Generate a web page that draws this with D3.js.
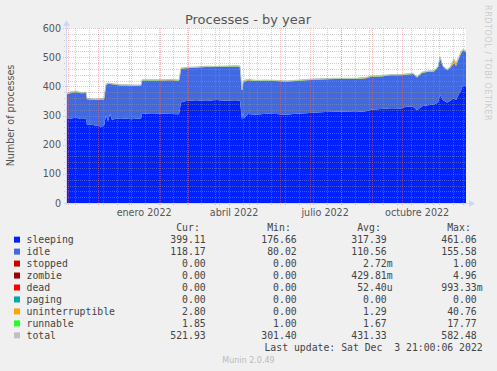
<!DOCTYPE html>
<head>
  <meta charset="utf-8">
  <script src="https://d3js.org/d3.v7.min.js"></script>
<style>
    body {
        margin: 0;
        background: #f0f0f0;
    }
    text {
        font-family: "DejaVu Sans", sans-serif;
        fill: #555;
    }
    .mono {
        font-family: "DejaVu Sans Mono", monospace;
        font-size: 9.8px;
        fill: #444;
        white-space: pre;
    }
</style>
</head>

<body>
  <script>

// day offsets from the start of the graph (Oct 29 2021 21:00)
var days = [0, 5, 10, 15, 20, 21, 25, 30, 35, 38,
    40, 42, 44, 46, 50, 55, 60, 65, 70, 75,
    76, 85, 95, 105, 113, 115, 120, 130, 140, 150,
    160, 170, 174, 176, 177, 178, 182, 190, 200, 210,
    220, 230, 240, 250, 260, 270, 280, 290, 300, 305,
    315, 325, 335, 340, 347, 351, 356, 362, 368, 372,
    374, 377, 381, 384, 388, 390, 393, 395, 397, 400];

var sleeping = [287, 290, 292, 288, 289, 268, 268, 266, 262, 265,
    300, 280, 305, 285, 290, 288, 290, 287, 289, 290,
    305, 308, 307, 305, 304, 345, 350, 352, 350, 353,
    351, 352, 351, 285, 310, 290, 305, 303, 306, 305,
    303, 306, 308, 310, 312, 313, 313, 312, 315, 320,
    322, 325, 324, 330, 330, 318, 332, 335, 338, 345,
    370, 352, 345, 350, 360, 352, 375, 385, 405, 399.11];

var idle = [85, 86, 88, 88, 86, 88, 87, 88, 92, 90,
    105, 128, 103, 122, 115, 115, 112, 115, 113, 112,
    115, 112, 113, 115, 115, 115, 112, 112, 115, 113,
    116, 116, 116, 100, 100, 125, 115, 115, 113, 113,
    113, 112, 113, 113, 112, 112, 112, 113, 112, 113,
    112, 113, 114, 110, 112, 112, 114, 115, 113, 120,
    127, 115, 110, 113, 120, 118, 122, 127, 118, 118.17];

var stopped = [0, 0, 0, 0, 0, 0, 0, 0, 0, 0,
    0, 0, 0, 0, 0, 0, 0, 0, 0, 0,
    0, 0, 0, 0, 0, 0, 0, 0, 0, 0,
    0, 0, 0, 0, 1, 0, 0, 0, 0, 0,
    0, 0, 0, 0, 0, 0, 0, 0, 0, 0,
    0, 0, 0, 0, 0, 0, 0, 0, 0, 0,
    0, 0, 0, 0, 0, 0, 0, 0, 0, 0];

var zombie = [0, 1, 0, 0, 2, 0, 0, 0, 1, 0,
    0, 0, 0, 0, 0, 0, 1, 0, 0, 0,
    0, 0, 0, 1, 0, 0, 0, 0, 1, 0,
    0, 0, 0, 0, 0, 0, 1, 0, 0, 0,
    0, 0, 0, 0, 0, 0, 0, 0, 1, 0,
    0, 0, 0, 0, 0, 0, 0, 0, 0, 0,
    0, 0, 0, 0, 0, 0, 0, 0, 0, 0];

var dead = [0, 0, 0, 0, 0, 0, 0, 0, 0, 0,
    0, 0, 0, 0, 0, 0, 0, 0, 0, 0,
    0, 0, 0, 0, 0, 0, 0, 0, 0, 0,
    0, 0, 0, 0, 0, 0, 0, 0, 0, 0,
    0, 0, 0, 0, 0, 0, 0, 0, 0, 0,
    0, 0, 0, 0, 0, 0, 0, 0, 0, 0,
    0, 0, 0, 0, 0, 0, 0, 0, 0, 0];

var paging = [0, 0, 0, 0, 0, 0, 0, 0, 0, 0,
    0, 0, 0, 0, 0, 0, 0, 0, 0, 0,
    0, 0, 0, 0, 0, 0, 0, 0, 0, 0,
    0, 0, 0, 0, 0, 0, 0, 0, 0, 0,
    0, 0, 0, 0, 0, 0, 0, 0, 0, 0,
    0, 0, 0, 0, 0, 0, 0, 0, 0, 0,
    0, 0, 0, 0, 0, 0, 0, 0, 0, 0];

var uninterruptible = [1, 3, 1, 1, 1, 1, 1, 1, 1, 1,
    1, 1, 1, 1, 1, 1, 1, 1, 1, 1,
    1, 1, 1, 1, 1, 1, 1, 1, 1, 1,
    1, 1, 1, 1, 1, 4, 1, 1, 1, 1,
    1, 1, 1, 1, 1, 1, 1, 1, 1, 1,
    1, 1, 1, 1, 1, 1, 1, 1, 1, 1,
    2, 1, 1, 1, 12, 8, 2, 6, 2, 2.8];

var runnable = [1.7, 1.7, 3, 1.7, 1.7, 1.7, 1.7, 1.7, 1.7, 1.7,
    1.7, 1.7, 1.7, 1.7, 1.7, 1.7, 1.7, 1.7, 1.7, 1.7,
    1.7, 1.7, 1.7, 1.7, 1.7, 1.7, 1.7, 1.7, 1.7, 1.7,
    1.7, 1.7, 1.7, 1.7, 1.7, 1.7, 1.7, 1.7, 1.7, 1.7,
    1.7, 1.7, 1.7, 1.7, 1.7, 1.7, 1.7, 1.7, 1.7, 1.7,
    1.7, 1.7, 1.7, 1.7, 1.7, 1.7, 1.7, 1.7, 1.7, 1.7,
    2, 1.7, 1.7, 1.7, 2, 1.7, 1.7, 1.7, 1.7, 1.85];

var seriesKeys = ["sleeping", "idle", "stopped", "zombie", "dead", "paging", "uninterruptible", "runnable"];
var seriesColors = ["#0022ff", "#4169e1", "#cc0000", "#990000", "#ff0000", "#00aaaa", "#ffa500", "#22ff22"];

var legendNames = ["sleeping", "idle", "stopped", "zombie", "dead", "paging", "uninterruptible", "runnable", "total"];
var legendColors = ["#0022ff", "#4169e1", "#cc0000", "#990000", "#ff0000", "#00aaaa", "#ffa500", "#22ff22", "#c0c0c0"];
var curVals = ["399.11", "118.17", "0.00", "0.00", "0.00", "0.00", "2.80", "1.85", "521.93"];
var minVals = ["176.66", "80.02", "0.00", "0.00", "0.00", "0.00", "0.00", "1.00", "301.40"];
var avgVals = ["317.39", "110.56", "2.72m", "429.81m", "52.40u", "0.00", "1.29", "1.67", "431.33"];
var maxVals = ["461.06", "155.58", "1.00", "4.96", "993.33m", "0.00", "40.76", "17.77", "582.48"];

var yTicks = [0, 100, 200, 300, 400, 500, 600];
var xLabelDates = [new Date(Date.UTC(2022, 0, 1)), new Date(Date.UTC(2022, 3, 1)),
    new Date(Date.UTC(2022, 6, 1)), new Date(Date.UTC(2022, 9, 1))];
var xLabels = ["enero 2022", "abril 2022", "julio 2022", "octubre 2022"];

var width = 497;
var height = 371;
var start = new Date(Date.UTC(2021, 9, 29, 21, 0, 6));
var end = new Date(Date.UTC(2022, 11, 3, 21, 0, 6));

var svg = d3.select("body")
    .append("svg")
    .attr("width", width)
    .attr("height", height);

svg.append("rect")
    .attr("width", width)
    .attr("height", height)
    .attr("fill", "#f0f0f0");

var x = d3.scaleUtc()
    .domain([start, end])
    .range([66, 466]);

var y = d3.scaleLinear()
    .domain([0, 600])
    .range([203, 28]);

// canvas
svg.append("rect")
    .attr("x", x.range()[0])
    .attr("y", y(600))
    .attr("width", x.range()[1] - x.range()[0])
    .attr("height", y(0) - y(600))
    .attr("fill", "#fff");

var table = days.map(function (d, i) {
    return {
        date: d3.utcDay.offset(start, d),
        sleeping: sleeping[i], idle: idle[i], stopped: stopped[i], zombie: zombie[i],
        dead: dead[i], paging: paging[i], uninterruptible: uninterruptible[i], runnable: runnable[i]
    };
});

var stacked = d3.stack().keys(seriesKeys)(table);

var area = d3.area()
    .x(function (d) { return x(d.data.date); })
    .y0(function (d) { return y(d[0]); })
    .y1(function (d) { return y(d[1]); });

svg.selectAll("path.layer")
    .data(stacked)
    .enter()
    .append("path")
    .attr("class", "layer")
    .attr("d", area)
    .attr("fill", function (d, i) { return seriesColors[i]; });

// total line
var totalLine = d3.line()
    .x(function (d) { return x(d.date); })
    .y(function (d) {
        return y(d3.sum(seriesKeys, function (k) { return d[k]; }));
    });

svg.append("path")
    .datum(table)
    .attr("d", totalLine)
    .attr("fill", "none")
    .attr("stroke", "#c0c0c0")
    .attr("stroke-width", 1);

// grid
var grid = svg.append("g");
var minorColor = "rgba(150,150,150,0.45)";
var majorColor = "rgba(235,110,110,0.42)";

var minorY = d3.range(0, 601, 20).filter(function (v) { return v % 100 !== 0; });
grid.selectAll("line.my")
    .data(minorY)
    .enter()
    .append("line")
    .attr("x1", 64).attr("x2", 466)
    .attr("y1", function (d) { return Math.round(y(d)) + 0.5; })
    .attr("y2", function (d) { return Math.round(y(d)) + 0.5; })
    .attr("stroke", minorColor)
    .attr("stroke-dasharray", "1,1");

grid.selectAll("line.My")
    .data(yTicks.slice(1))
    .enter()
    .append("line")
    .attr("x1", 63).attr("x2", 466)
    .attr("y1", function (d) { return Math.round(y(d)) + 0.5; })
    .attr("y2", function (d) { return Math.round(y(d)) + 0.5; })
    .attr("stroke", majorColor)
    .attr("stroke-dasharray", "1,1");

var minorX = d3.utcMonday.range(new Date(Date.UTC(2021, 10, 8)), end, 2);
grid.selectAll("line.mx")
    .data(minorX)
    .enter()
    .append("line")
    .attr("x1", function (d) { return Math.round(x(d)) + 0.5; })
    .attr("x2", function (d) { return Math.round(x(d)) + 0.5; })
    .attr("y1", y(600)).attr("y2", 205)
    .attr("stroke", minorColor)
    .attr("stroke-dasharray", "1,1");

var majorX = d3.utcMonth.range(start, end);
grid.selectAll("line.Mx")
    .data(majorX)
    .enter()
    .append("line")
    .attr("x1", function (d) { return Math.round(x(d)) + 0.5; })
    .attr("x2", function (d) { return Math.round(x(d)) + 0.5; })
    .attr("y1", y(600)).attr("y2", 206)
    .attr("stroke", majorColor)
    .attr("stroke-dasharray", "1,1");

// axes with arrows
var axisColor = "#cfd6f8";
svg.append("line")
    .attr("x1", 66.5).attr("x2", 66.5)
    .attr("y1", 205).attr("y2", 25)
    .attr("stroke", axisColor);
svg.append("path")
    .attr("d", "M63,26L66.5,20L70,26Z")
    .attr("fill", axisColor);
svg.append("line")
    .attr("x1", 64).attr("x2", 470)
    .attr("y1", 203.5).attr("y2", 203.5)
    .attr("stroke", axisColor);
svg.append("path")
    .attr("d", "M469,200L475,203.5L469,207Z")
    .attr("fill", axisColor);

// tick labels
svg.selectAll("text.ytick")
    .data(yTicks)
    .enter()
    .append("text")
    .attr("x", 61)
    .attr("y", function (d) { return y(d) + 3.5; })
    .attr("text-anchor", "end")
    .style("font-size", "9.6px")
    .text(function (d) { return d; });

svg.selectAll("text.xtick")
    .data(xLabelDates)
    .enter()
    .append("text")
    .attr("x", function (d) { return x(d3.utcDay.offset(d, 15)); })
    .attr("y", 216)
    .attr("text-anchor", "middle")
    .style("font-size", "9.6px")
    .text(function (d, i) { return xLabels[i]; });

// titles
svg.append("text")
    .attr("x", 248)
    .attr("y", 24)
    .attr("text-anchor", "middle")
    .style("font-size", "13px")
    .text("Processes - by year");

svg.append("text")
    .attr("transform", "translate(13.5," + ((y(0) + y(600)) / 2) + ") rotate(-90)")
    .attr("text-anchor", "middle")
    .style("font-size", "9.6px")
    .text("Number of processes");

svg.append("text")
    .attr("transform", "translate(485,5) rotate(90)")
    .style("font-size", "8px")
    .style("letter-spacing", "0.6px")
    .style("fill", "#cccccc")
    .text("RRDTOOL / TOBI OETIKER");

// legend
var rowY = function (i) { return 231.2 + i * 11.96; };
var colRight = [205.7, 296.7, 386.7, 476.7];
var headers = ["Cur:", "Min:", "Avg:", "Max:"];

headers.forEach(function (h, j) {
    svg.append("text")
        .attr("class", "mono")
        .attr("x", colRight[j] - 5.9)
        .attr("y", rowY(0))
        .attr("text-anchor", "end")
        .text(h);
});

function putValue(v, xr, yy) {
    var m = v.match(/^([\d.]+)([a-zA-Z]?)$/);
    svg.append("text")
        .attr("class", "mono")
        .attr("x", xr)
        .attr("y", yy)
        .attr("text-anchor", "end")
        .text(m[1]);
    if (m[2]) {
        svg.append("text")
            .attr("class", "mono")
            .attr("x", xr)
            .attr("y", yy)
            .text(m[2]);
    }
}

legendNames.forEach(function (name, i) {
    var yy = rowY(i + 1);
    svg.append("rect")
        .attr("x", 14)
        .attr("y", yy - 6.5)
        .attr("width", 6)
        .attr("height", 6)
        .attr("fill", legendColors[i]);
    svg.append("text")
        .attr("class", "mono")
        .attr("x", 26.5)
        .attr("y", yy)
        .text(name);
    putValue(curVals[i], colRight[0], yy);
    putValue(minVals[i], colRight[1], yy);
    putValue(avgVals[i], colRight[2], yy);
    putValue(maxVals[i], colRight[3], yy);
});

svg.append("text")
    .attr("class", "mono")
    .attr("x", 482.7)
    .attr("y", rowY(10))
    .attr("text-anchor", "end")
    .text("Last update: Sat Dec  3 21:00:06 2022");

svg.append("text")
    .attr("x", 248.5)
    .attr("y", 362.5)
    .attr("text-anchor", "middle")
    .style("font-size", "8px")
    .style("fill", "#bbbbbb")
    .text("Munin 2.0.49");

  </script>
</body>
